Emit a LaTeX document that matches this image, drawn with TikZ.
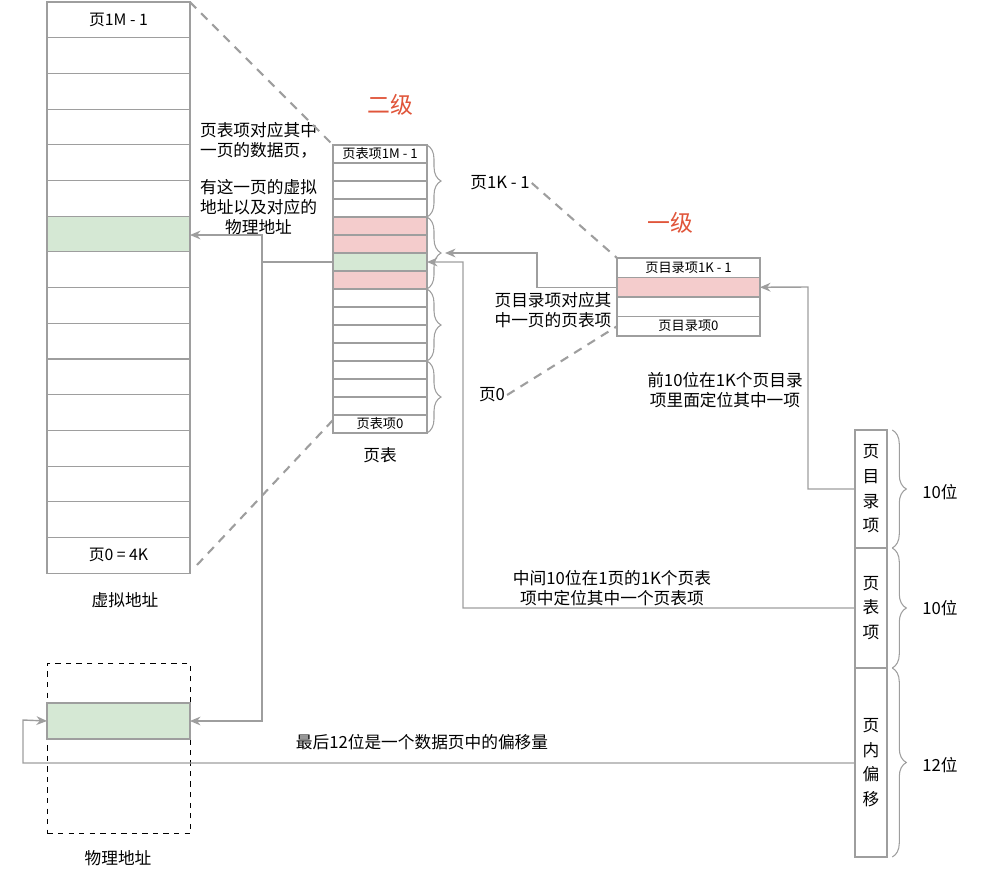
\documentclass[tikz,border=0pt]{standalone}
\usepackage{fontspec}
\setmainfont{Noto Sans CJK SC}
\usetikzlibrary{decorations.pathreplacing,arrows.meta}
\definecolor{ln}{HTML}{9E9E9E}
\definecolor{pk}{HTML}{F4CCCC}
\definecolor{gr}{HTML}{D5E8D4}
\definecolor{rd}{HTML}{E0553A}
\begin{document}
\begin{tikzpicture}[x=0.02cm,y=-0.02cm,
  cell/.style={draw=ln,line width=0.6pt,inner sep=0,outer sep=0,anchor=north west,font=\fontsize{9}{10}\selectfont},
  vcell/.style={cell,minimum width=2.86cm,minimum height=0.714cm},
  tcell/.style={cell,minimum width=1.88cm,minimum height=0.36cm,font=\fontsize{7.5}{8}\selectfont},
  dcell/.style={cell,minimum width=2.86cm,minimum height=0.39cm,font=\fontsize{7.5}{8}\selectfont},
  arr/.style={draw=ln,line width=0.8pt,-{Stealth[length=6pt,width=5pt]}},
  dsh/.style={draw=ln,line width=1.2pt,dash pattern=on 5pt off 4pt},
  br/.style={draw=ln,line width=0.6pt,decorate,decoration={brace,amplitude=8pt,aspect=0.5}},
  txt/.style={font=\fontsize{9.5}{11.5}\selectfont,align=center,inner sep=1pt},
  big/.style={font=\fontsize{13}{14}\selectfont,text=rd}]
\useasboundingbox (0,0) rectangle (1000,870);
% virtual address
\foreach \i in {0,...,15}{\node[vcell] (v\i) at (47,{2+35.7*\i}) {};}
\fill[gr] ([xshift=0.3pt,yshift=-0.3pt]v6.north west) rectangle ([xshift=-0.3pt,yshift=0.3pt]v6.south east);
\draw[ln,line width=0.6pt] (v6.north west) rectangle (v6.south east);
\node[font=\fontsize{9}{10}\selectfont] at (v0) {页1M - 1};
\node[font=\fontsize{9}{10}\selectfont] at (v15) {页0 = 4K};
\node[txt] (vl) at (125,600) {虚拟地址};
% page table
\foreach \i in {0,...,15}{\node[tcell] (t\i) at (333,{145+18*\i}) {};}
\foreach \i in {4,5,7}{\fill[pk] (t\i.north west) rectangle (t\i.south east);\draw[ln,line width=0.6pt] (t\i.north west) rectangle (t\i.south east);}
\fill[gr] (t6.north west) rectangle (t6.south east);\draw[ln,line width=0.6pt] (t6.north west) rectangle (t6.south east);
\node[font=\fontsize{7.5}{8}\selectfont] at (t0) {页表项1M - 1};
\node[font=\fontsize{7.5}{8}\selectfont] at (t15) {页表项0};
\node[txt] (tl) at (380,455) {页表};
\draw[br] (t0.north east) -- (t3.south east);
\draw[br] (t4.north east) -- (t7.south east);
\draw[br] (t8.north east) -- (t11.south east);
\draw[br] (t12.north east) -- (t15.south east);
\coordinate (b2) at (445,253);
\node[txt] (p1k) at (500,183) {页1K - 1};
\node[txt] (p0) at (492,395) {页0};
% directory
\node[dcell] (d0) at (617,258) {页目录项1K - 1};
\node[dcell,fill=pk] (d1) at (617,277.5) {};
\node[dcell] (d2) at (617,297) {};
\node[dcell] (d3) at (617,316.5) {页目录项0};
% labels
\node[big] (l2) at (390,105) {二级};
\node[big] (l1) at (670,223) {一级};
\node[txt,align=left,anchor=north west] (n1) at (198,120) {页表项对应其中\\一页的数据页，};
\node[txt,anchor=north west] (n2) at (198,177) {有这一页的虚拟\\地址以及对应的\\物理地址};
\node[txt] (n3) at (553,310) {页目录项对应其\\中一页的页表项};
\node[txt] (n4) at (725,390) {前10位在1K个页目录\\项里面定位其中一项};
\node[txt] (n5) at (612,588) {中间10位在1页的1K个页表\\项中定位其中一个页表项};
\node[txt] (n6) at (422,742) {最后12位是一个数据页中的偏移量};
% physical
\node[draw=black,dashed,line width=0.6pt,minimum width=2.86cm,minimum height=3.4cm,anchor=north west,inner sep=0] (pa) at (47,663) {};
\node[cell,fill=gr,minimum width=2.86cm,minimum height=0.72cm] (pg) at (47,703) {};
\node[txt] (pl) at (118,858) {物理地址};
% bits
\node[cell,minimum width=0.64cm,minimum height=2.36cm,align=center,font=\fontsize{9.5}{14}\selectfont] (bd) at (855,430) {页\\目\\录\\项};
\node[cell,minimum width=0.64cm,minimum height=2.4cm,align=center,font=\fontsize{9.5}{14}\selectfont] (bt) at (855,548) {页\\表\\项};
\node[cell,minimum width=0.64cm,minimum height=3.78cm,align=center,font=\fontsize{9.5}{14}\selectfont] (bo) at (855,668) {页\\内\\偏\\移};
\draw[br] ([xshift=3pt]bd.north east) -- ([xshift=3pt]bd.south east);
\draw[br] ([xshift=3pt]bt.north east) -- ([xshift=3pt]bt.south east);
\draw[br] ([xshift=3pt]bo.north east) -- ([xshift=3pt]bo.south east);
\node[txt] (k1) at (940,492) {10位};
\node[txt] (k2) at (940,608) {10位};
\node[txt] (k3) at (940,765) {12位};
% dashed
\draw[dsh] (v0.north east) -- (t0.north west);
\draw[dsh] (197,565) -- (333,420);
\draw[dsh] (p1k.east) -- (d0.north west);
\draw[dsh] (p0.east) -- (d3.west);
% arrows
\draw[arr] (t6.west) -| (262,235) -- (v6.east |- 0,235);
\draw[arr] (262,262) |- (pg.east);
\draw[arr] (d1.west) -| (537,253) -- (b2);
\draw[arr] (bt.west) -| (463,262) -- (t6.east);
\draw[arr] (bd.west) -| (808,287) -- (d1.east);
\draw[arr] (bo.west |- 0,763) -| (23,720) -- (pg.west);
\end{tikzpicture}
\end{document}
